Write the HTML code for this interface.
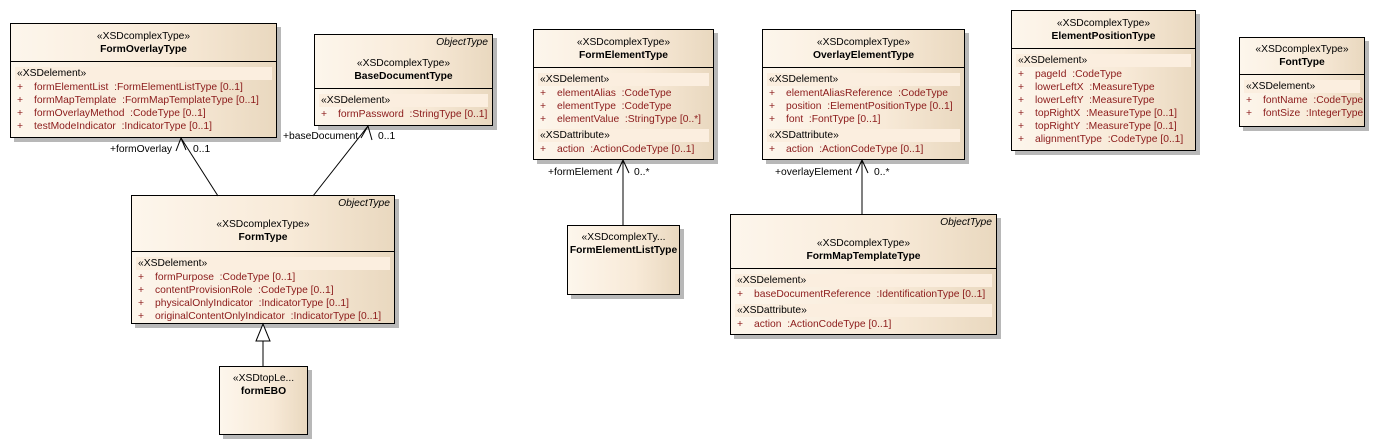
<!DOCTYPE html>
<html><head><meta charset="utf-8">
<style>
body{margin:0;width:1379px;height:445px;background:#fff;position:relative;overflow:hidden;font-family:"Liberation Sans",Arial,sans-serif;font-size:10.3px;color:#000}
.b{position:absolute;border:1px solid #000;box-sizing:border-box;background:linear-gradient(90deg,#fdf6ec 0%,#f8ead8 60%,#e9d8bf 100%);box-shadow:4px 4px 0 #b8b8b8}
.h{position:relative;border-bottom:1px solid #000;box-sizing:border-box;text-align:center}
.h .st{position:absolute;left:0;right:0;text-align:center}
.h .nm{position:absolute;left:0;right:0;text-align:center;font-weight:bold}
.h .ot{position:absolute;right:4px;top:2px;font-style:italic}
.bd{padding:5px 4px 0 4px}
.lab{background:#fbeedf;height:13px;line-height:13px;padding-left:2px;margin-bottom:1px}
.r{height:13px;line-height:13px;color:#8b1a1a;white-space:nowrap}
.r span{display:inline-block;width:17px;padding-left:2px}
.gap{height:3px}
.t{position:absolute;white-space:nowrap}
svg{z-index:5}
</style></head><body>
<svg width="1379" height="445" style="position:absolute;left:0;top:0" fill="none" stroke="#000" stroke-width="1">
<line x1="218" y1="196" x2="181" y2="138"/><polyline points="176,151 181,138 186,150"/>
<line x1="313" y1="196" x2="368" y2="126"/><polyline points="361,138 368,126 372,140"/>
<line x1="263" y1="366" x2="263" y2="341"/><polygon points="263,324 256,341 270,341" fill="#fff"/>
<line x1="623" y1="225" x2="623" y2="160"/><polyline points="617,173 623,160 629,173"/>
<line x1="862" y1="214" x2="862" y2="160"/><polyline points="856,173 862,160 868,173"/>
</svg>
<div class="t" style="left:110px;top:144px">+formOverlay</div><div class="t" style="left:193px;top:144px">0..1</div>
<div class="t" style="left:283px;top:131px">+baseDocument</div><div class="t" style="left:378px;top:131px">0..1</div>
<div class="t" style="left:548px;top:167px">+formElement</div><div class="t" style="left:634px;top:167px">0..*</div>
<div class="t" style="left:775px;top:167px">+overlayElement</div><div class="t" style="left:874px;top:167px">0..*</div>

<div class="b" style="left:10px;top:23px;width:267px;height:115px">
<div class="h" style="height:38px"><div class="st" style="top:7px">«XSDcomplexType»</div><div class="nm" style="top:20px">FormOverlayType</div></div>
<div class="bd"><div class="lab">«XSDelement»</div>
<div class="r"><span>+</span>formElementList &nbsp;:FormElementListType [0..1]</div>
<div class="r"><span>+</span>formMapTemplate &nbsp;:FormMapTemplateType [0..1]</div>
<div class="r"><span>+</span>formOverlayMethod &nbsp;:CodeType [0..1]</div>
<div class="r"><span>+</span>testModeIndicator &nbsp;:IndicatorType [0..1]</div></div></div>

<div class="b" style="left:314px;top:34px;width:179px;height:92px">
<div class="h" style="height:54px"><div class="ot">ObjectType</div><div class="st" style="top:23px">«XSDcomplexType»</div><div class="nm" style="top:36px">BaseDocumentType</div></div>
<div class="bd"><div class="lab">«XSDelement»</div>
<div class="r"><span>+</span>formPassword &nbsp;:StringType [0..1]</div></div></div>

<div class="b" style="left:131px;top:195px;width:264px;height:129px">
<div class="h" style="height:56px"><div class="ot">ObjectType</div><div class="st" style="top:23px">«XSDcomplexType»</div><div class="nm" style="top:36px">FormType</div></div>
<div class="bd"><div class="lab">«XSDelement»</div>
<div class="r"><span>+</span>formPurpose &nbsp;:CodeType [0..1]</div>
<div class="r"><span>+</span>contentProvisionRole &nbsp;:CodeType [0..1]</div>
<div class="r"><span>+</span>physicalOnlyIndicator &nbsp;:IndicatorType [0..1]</div>
<div class="r"><span>+</span>originalContentOnlyIndicator &nbsp;:IndicatorType [0..1]</div></div></div>

<div class="b" style="left:219px;top:366px;width:89px;height:69px">
<div class="t" style="left:0;right:0;text-align:center;top:6px">«XSDtopLe...</div>
<div class="t" style="left:0;right:0;text-align:center;top:19px;font-weight:bold">formEBO</div></div>

<div class="b" style="left:533px;top:29px;width:181px;height:131px">
<div class="h" style="height:38px"><div class="st" style="top:7px">«XSDcomplexType»</div><div class="nm" style="top:20px">FormElementType</div></div>
<div class="bd"><div class="lab">«XSDelement»</div>
<div class="r"><span>+</span>elementAlias &nbsp;:CodeType</div>
<div class="r"><span>+</span>elementType &nbsp;:CodeType</div>
<div class="r"><span>+</span>elementValue &nbsp;:StringType [0..*]</div>
<div class="gap"></div><div class="lab">«XSDattribute»</div>
<div class="r"><span>+</span>action &nbsp;:ActionCodeType [0..1]</div></div></div>

<div class="b" style="left:762px;top:29px;width:203px;height:131px">
<div class="h" style="height:38px"><div class="st" style="top:7px">«XSDcomplexType»</div><div class="nm" style="top:20px">OverlayElementType</div></div>
<div class="bd"><div class="lab">«XSDelement»</div>
<div class="r"><span>+</span>elementAliasReference &nbsp;:CodeType</div>
<div class="r"><span>+</span>position &nbsp;:ElementPositionType [0..1]</div>
<div class="r"><span>+</span>font &nbsp;:FontType [0..1]</div>
<div class="gap"></div><div class="lab">«XSDattribute»</div>
<div class="r"><span>+</span>action &nbsp;:ActionCodeType [0..1]</div></div></div>

<div class="b" style="left:567px;top:225px;width:113px;height:70px">
<div class="t" style="left:0;right:0;text-align:center;top:6px">«XSDcomplexTy...</div>
<div class="t" style="left:0;right:0;text-align:center;top:19px;font-weight:bold">FormElementListType</div></div>

<div class="b" style="left:730px;top:214px;width:267px;height:121px">
<div class="h" style="height:54px"><div class="ot">ObjectType</div><div class="st" style="top:23px">«XSDcomplexType»</div><div class="nm" style="top:36px">FormMapTemplateType</div></div>
<div class="bd"><div class="lab">«XSDelement»</div>
<div class="r"><span>+</span>baseDocumentReference &nbsp;:IdentificationType [0..1]</div>
<div class="gap"></div><div class="lab">«XSDattribute»</div>
<div class="r"><span>+</span>action &nbsp;:ActionCodeType [0..1]</div></div></div>

<div class="b" style="left:1011px;top:10px;width:185px;height:141px">
<div class="h" style="height:38px"><div class="st" style="top:7px">«XSDcomplexType»</div><div class="nm" style="top:20px">ElementPositionType</div></div>
<div class="bd"><div class="lab">«XSDelement»</div>
<div class="r"><span>+</span>pageId &nbsp;:CodeType</div>
<div class="r"><span>+</span>lowerLeftX &nbsp;:MeasureType</div>
<div class="r"><span>+</span>lowerLeftY &nbsp;:MeasureType</div>
<div class="r"><span>+</span>topRightX &nbsp;:MeasureType [0..1]</div>
<div class="r"><span>+</span>topRightY &nbsp;:MeasureType [0..1]</div>
<div class="r"><span>+</span>alignmentType &nbsp;:CodeType [0..1]</div></div></div>

<div class="b" style="left:1239px;top:37px;width:126px;height:90px">
<div class="h" style="height:37px"><div class="st" style="top:6px">«XSDcomplexType»</div><div class="nm" style="top:19px">FontType</div></div>
<div class="bd"><div class="lab">«XSDelement»</div>
<div class="r"><span>+</span>fontName &nbsp;:CodeType</div>
<div class="r"><span>+</span>fontSize &nbsp;:IntegerType</div></div></div>
</body></html>
